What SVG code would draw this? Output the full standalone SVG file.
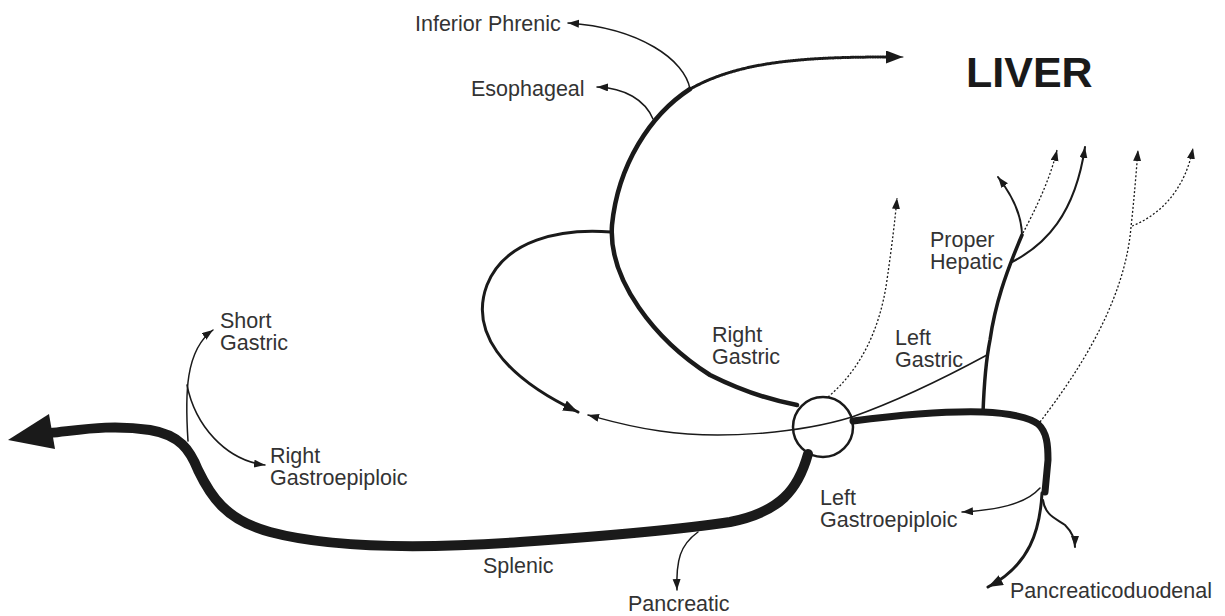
<svg xmlns="http://www.w3.org/2000/svg" width="1225" height="616" viewBox="0 0 1225 616">
<style>
.lbl{font-family:"Liberation Sans",Arial,sans-serif;font-size:21.5px;fill:#333}
.big{font-family:"Liberation Sans",Arial,sans-serif;font-size:43px;font-weight:bold;fill:#1a1a1a}
.ln{fill:none;stroke:#1a1a1a;stroke-linecap:round;stroke-linejoin:round}
.thin{stroke-width:1.5}
.med{stroke-width:2}
.dot{stroke-width:1.3;stroke-dasharray:2 2;stroke-linecap:butt}
</style>
<defs>
<marker id="aS" markerUnits="userSpaceOnUse" markerWidth="12" markerHeight="9" refX="11" refY="4" orient="auto"><path d="M0,0 L11,4 L0,8 z" fill="#1a1a1a"/></marker>
<marker id="aM" markerUnits="userSpaceOnUse" markerWidth="16" markerHeight="12" refX="15" refY="5.5" orient="auto"><path d="M0,0 L15,5.5 L0,11 z" fill="#1a1a1a"/></marker>
<marker id="aL" markerUnits="userSpaceOnUse" markerWidth="18" markerHeight="14" refX="17" refY="6.5" orient="auto"><path d="M0,0 L17,6.5 L0,13 z" fill="#1a1a1a"/></marker>
</defs>
<g id="connectors">
<path class="ln" d="M690,89 C650,115 618,165 612,225 C608,280 655,340 710,375 C740,390 770,400 797,405" stroke-width="4.5"/>
<path class="ln" d="M611,232 C560,228 505,240 487,285 C470,330 500,375 578,412" stroke-width="3" marker-end="url(#aM)"/>
<path class="ln" d="M808,454 C798,490 780,512 730,522 C690,528 620,535 520,542 C420,549 330,548 270,532 C225,520 210,495 198,470 C190,450 180,435 150,430 C110,424 80,430 50,433" stroke-width="10"/>
<polygon points="8,440 49,414 55,449" fill="#1a1a1a"/>
<path class="ln" d="M853,421 C900,415 950,411 983,412 C1010,413 1030,418 1038,424 C1047,432 1048,445 1048,460 L1045,492" stroke-width="7"/>
<path class="ln" d="M983,413 C984,385 986,360 990,340 C995,305 1005,275 1022,235" stroke-width="3.5"/>
<path class="ln med" d="M1022,236 C1022,215 1012,195 998,177" marker-end="url(#aS)"/>
<path class="ln dot" d="M1023,233 C1035,210 1050,180 1057,150" marker-end="url(#aS)"/>
<path class="ln med" d="M1012,262 C1045,245 1075,215 1085,147" marker-end="url(#aS)"/>
<path class="ln dot" d="M1040,422 C1080,370 1125,300 1131,227 C1134,200 1136,175 1138,150" marker-end="url(#aS)"/>
<path class="ln dot" d="M1132,226 C1160,215 1185,190 1193,148" marker-end="url(#aS)"/>
<path class="ln dot" d="M828,397 C860,370 880,330 887,280 C892,245 895,220 897,198" marker-end="url(#aS)"/>
<path class="ln thin" d="M987,355 C950,375 900,400 852,417 C800,433 720,440 660,431 C630,427 610,421 588,415" marker-end="url(#aS)"/>
<path class="ln thin" d="M690,89 C685,60 640,28 568,23" marker-end="url(#aS)"/>
<path class="ln thin" d="M653,119 C645,100 625,88 597,87" marker-end="url(#aS)"/>
<path class="ln" d="M692,88 C740,62 800,57 888,57" stroke="#555" stroke-width="3" stroke-dasharray="1.2 1.3" stroke-linecap="butt"/>
<path class="ln" d="M888,57 L903,57" stroke-width="1" marker-end="url(#aL)"/>
<path class="ln thin" d="M188,441 C185,395 185,350 213,330" marker-end="url(#aS)"/>
<path class="ln thin" d="M187,385 C195,425 225,460 265,465" marker-end="url(#aS)"/>
<path class="ln thin" d="M698,532 C680,545 676,560 677,590" marker-end="url(#aS)"/>
<path class="ln" d="M1042,493 C1040,530 1030,565 988,587" stroke-width="3" marker-end="url(#aM)"/>
<path class="ln thin" d="M1040,488 C1025,505 995,510 962,512" marker-end="url(#aS)"/>
<path class="ln med" d="M1043,500 C1045,515 1055,518 1065,525 C1072,532 1075,540 1075,547" marker-end="url(#aS)"/>
</g>
<g id="celiac"><circle cx="823" cy="427" r="30" fill="none" stroke="#1a1a1a" stroke-width="2.5"/></g>
<g id="liver"><text class="big" x="966" y="87">LIVER</text></g>
<g id="inferior-phrenic"><text class="lbl" x="415" y="31">Inferior Phrenic</text></g>
<g id="esophageal"><text class="lbl" x="471" y="96">Esophageal</text></g>
<g id="short-gastric"><text class="lbl" x="220" y="328">Short<tspan x="220" y="350">Gastric</tspan></text></g>
<g id="right-gastroepiploic"><text class="lbl" x="270" y="463">Right<tspan x="270" y="485">Gastroepiploic</tspan></text></g>
<g id="splenic"><text class="lbl" x="483" y="573">Splenic</text></g>
<g id="pancreatic"><text class="lbl" x="628" y="611">Pancreatic</text></g>
<g id="right-gastric"><text class="lbl" x="712" y="342">Right<tspan x="712" y="364">Gastric</tspan></text></g>
<g id="left-gastric"><text class="lbl" x="895" y="345">Left<tspan x="895" y="367">Gastric</tspan></text></g>
<g id="proper-hepatic"><text class="lbl" x="930" y="247">Proper<tspan x="930" y="269">Hepatic</tspan></text></g>
<g id="left-gastroepiploic"><text class="lbl" x="820" y="505">Left<tspan x="820" y="527">Gastroepiploic</tspan></text></g>
<g id="pancreaticoduodenal"><text class="lbl" x="1010" y="598">Pancreaticoduodenal</text></g>
</svg>
